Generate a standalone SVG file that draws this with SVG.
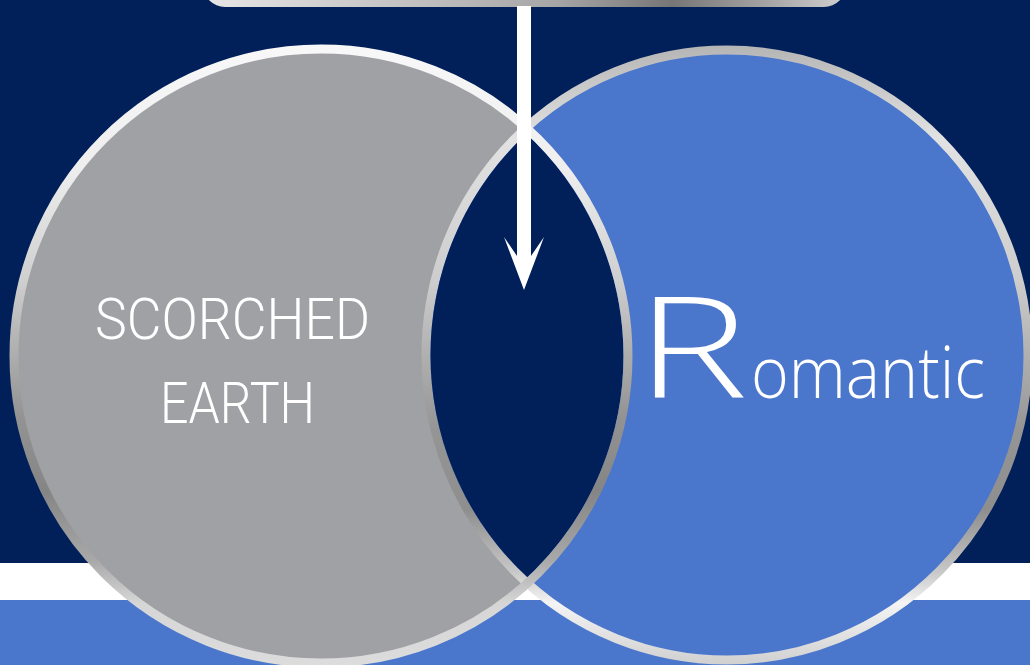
<svg xmlns="http://www.w3.org/2000/svg" width="1030" height="665" viewBox="0 0 1030 665">
  <style>
    .label-cond { font-family: 'Roboto', 'Liberation Sans', sans-serif; font-weight: 300; fill: #ffffff; font-size: 57px; }
    .label-script { font-family: 'Open Sans', 'Lato', 'Liberation Sans', sans-serif; font-weight: 300; fill: #ffffff; }
    .ring { fill: none; stroke-width: 9; }
  </style>
  <defs>
    <linearGradient id="ringLeft" gradientUnits="userSpaceOnUse" x1="0" y1="45" x2="0" y2="665">
      <stop offset="0" stop-color="#f8f8f8"/>
      <stop offset="0.2" stop-color="#eeeeee"/>
      <stop offset="0.38" stop-color="#cfcfcf"/>
      <stop offset="0.46" stop-color="#b8b8b8"/>
      <stop offset="0.6" stop-color="#939393"/>
      <stop offset="0.72" stop-color="#858585"/>
      <stop offset="0.83" stop-color="#a8a8a8"/>
      <stop offset="0.9" stop-color="#d6d6d6"/>
      <stop offset="1" stop-color="#dcdcdc"/>
    </linearGradient>
    <linearGradient id="ringRight" gradientUnits="userSpaceOnUse" x1="0" y1="45" x2="0" y2="665">
      <stop offset="0" stop-color="#b5b5b5"/>
      <stop offset="0.15" stop-color="#e2e2e2"/>
      <stop offset="0.38" stop-color="#cdcdcd"/>
      <stop offset="0.5" stop-color="#b0b0b0"/>
      <stop offset="0.62" stop-color="#959595"/>
      <stop offset="0.75" stop-color="#8e8e8e"/>
      <stop offset="0.85" stop-color="#c8c8c8"/>
      <stop offset="0.9" stop-color="#f4f4f4"/>
      <stop offset="1" stop-color="#d0d0d0"/>
    </linearGradient>
    <linearGradient id="boxGrad" gradientUnits="userSpaceOnUse" x1="203" y1="0" x2="846" y2="0">
      <stop offset="0" stop-color="#e6e6e6"/>
      <stop offset="0.3" stop-color="#c4c4c4"/>
      <stop offset="0.55" stop-color="#a6a6a6"/>
      <stop offset="0.73" stop-color="#767676"/>
      <stop offset="0.87" stop-color="#a2a2a2"/>
      <stop offset="1" stop-color="#d0d0d0"/>
    </linearGradient>
    <clipPath id="rightOuter">
      <ellipse cx="727" cy="355" rx="305.5" ry="309.5"/>
    </clipPath>
    <clipPath id="rightInner">
      <ellipse cx="727" cy="355" rx="296.5" ry="300.5"/>
    </clipPath>
  </defs>

  <!-- background -->
  <rect x="0" y="0" width="1030" height="665" fill="#01205a"/>
  <rect x="0" y="563" width="1030" height="37" fill="#ffffff"/>
  <rect x="0" y="600" width="1030" height="65" fill="#4a76cc"/>

  <!-- top box -->
  <g id="top-box">
    <rect x="203" y="-60" width="643" height="67" rx="22" fill="url(#boxGrad)"/>
  </g>

  <!-- left node -->
  <g id="scorched-earth">
    <circle cx="321" cy="356" r="307" fill="#a0a1a5"/>
    <circle class="ring" cx="321" cy="356" r="307" stroke="url(#ringLeft)"/>
    <text class="label-cond" x="232.5" y="339" text-anchor="middle" textLength="275" lengthAdjust="spacingAndGlyphs">SCORCHED</text>
    <text class="label-cond" x="237.5" y="423" text-anchor="middle" textLength="155" lengthAdjust="spacingAndGlyphs">EARTH</text>
  </g>

  <!-- right node -->
  <g id="romantic">
    <ellipse cx="727" cy="355" rx="301" ry="305" fill="#4a76cc"/>
    <ellipse class="ring" cx="727" cy="355" rx="301" ry="305" stroke="url(#ringRight)"/>
    <text class="label-script" y="398"><tspan x="636" font-size="140" textLength="112" lengthAdjust="spacingAndGlyphs">R</tspan><tspan x="751" font-size="72" textLength="234" lengthAdjust="spacingAndGlyphs">omantic</tspan></text>
  </g>

  <!-- overlap -->
  <g id="overlap">
    <circle cx="321" cy="356" r="302.5" fill="#01205a" clip-path="url(#rightInner)"/>
    <circle class="ring" cx="321" cy="356" r="307" stroke="url(#ringLeft)" clip-path="url(#rightOuter)"/>
  </g>

  <!-- connectors -->
  <g id="connectors">
    <polygon points="517,6 531,6 531,256 544,237 524,290 504,237 517,256" fill="#ffffff"/>
  </g>
</svg>
